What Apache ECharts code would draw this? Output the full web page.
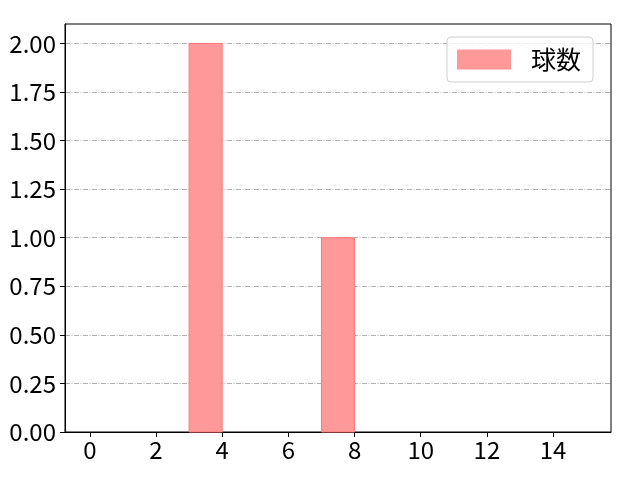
<!DOCTYPE html>
<html><head><meta charset="utf-8">
<script src="https://cdn.jsdelivr.net/npm/echarts@6/dist/echarts.min.js"></script>
<style>html,body{margin:0;padding:0;background:#fff}#c{width:640px;height:480px}</style>
</head><body><div id="c"></div>
<script>
const binStarts = [0,1,2,3,4,5,6,7,8,9,10,11,12,13,14];
const binWidth = 1;
const counts = [0,0,0,2,0,0,0,1,0,0,0,0,0,0,0];
const xTicks = [0,2,4,6,8,10,12,14];
const yTicks = [0,0.25,0.5,0.75,1,1.25,1.5,1.75,2];
const seriesName = '球数';

const data = binStarts.map((s,i)=>[s, s+binWidth, counts[i]]);
const font = '"Noto Sans CJK JP", "Noto Sans", sans-serif';
const chart = echarts.init(document.getElementById('c'), null, {renderer:'canvas'});
chart.setOption({
  animation:false,
  grid:{left:65,right:29,top:24,bottom:48,show:true,borderColor:'#000',borderWidth:1,backgroundColor:'transparent'},
  xAxis:{type:'value',min:-0.75,max:15.75,
    axisLine:{show:true,onZero:false,lineStyle:{color:'#000',width:1}},
    axisTick:{show:true,customValues:xTicks,length:5,lineStyle:{color:'#000'}},
    axisLabel:{customValues:xTicks,color:'#000',fontSize:24,fontFamily:font,margin:6},
    splitLine:{show:false}},
  yAxis:{type:'value',min:0,max:2.1,
    axisLine:{show:true,onZero:false,lineStyle:{color:'#000',width:1}},
    axisTick:{show:true,customValues:yTicks,length:5,lineStyle:{color:'#000'}},
    axisLabel:{customValues:yTicks,color:'#000',fontSize:24,fontFamily:font,margin:9,formatter:v=>v.toFixed(2)},
    splitLine:{show:true,lineStyle:{color:'#b0b0b0',width:1,type:[5,1.5,1,1.5]}}},
  legend:{show:true,left:447,top:37,orient:'vertical',data:[{name:seriesName,icon:'rect'}],
    itemWidth:54,itemHeight:20,itemGap:10,padding:[10,12,10,10],
    backgroundColor:'rgba(255,255,255,0.8)',borderColor:'#d0d0d0',borderWidth:1,borderRadius:4,
    textStyle:{fontSize:25,fontFamily:font,color:'#000',padding:[0,0,0,15]}},
  series:[{
    type:'custom',name:seriesName,
    itemStyle:{color:'rgba(255,153,153,1)',borderColor:'rgba(255,120,120,1)'},
    renderItem:(params,api)=>{
      if (api.value(2) <= 0) return null;
      const p0 = api.coord([api.value(0), api.value(2)]);
      const p1 = api.coord([api.value(1), 0]);
      return {type:'rect',shape:{x:p0[0],y:p0[1],width:p1[0]-p0[0],height:p1[1]-p0[1]},
        style:{fill:'rgba(255,153,153,1)',stroke:'rgba(255,120,120,1)',lineWidth:1}};
    },
    encode:{x:[0,1],y:2},
    data:data,z:3
  }]
});
</script></body></html>
